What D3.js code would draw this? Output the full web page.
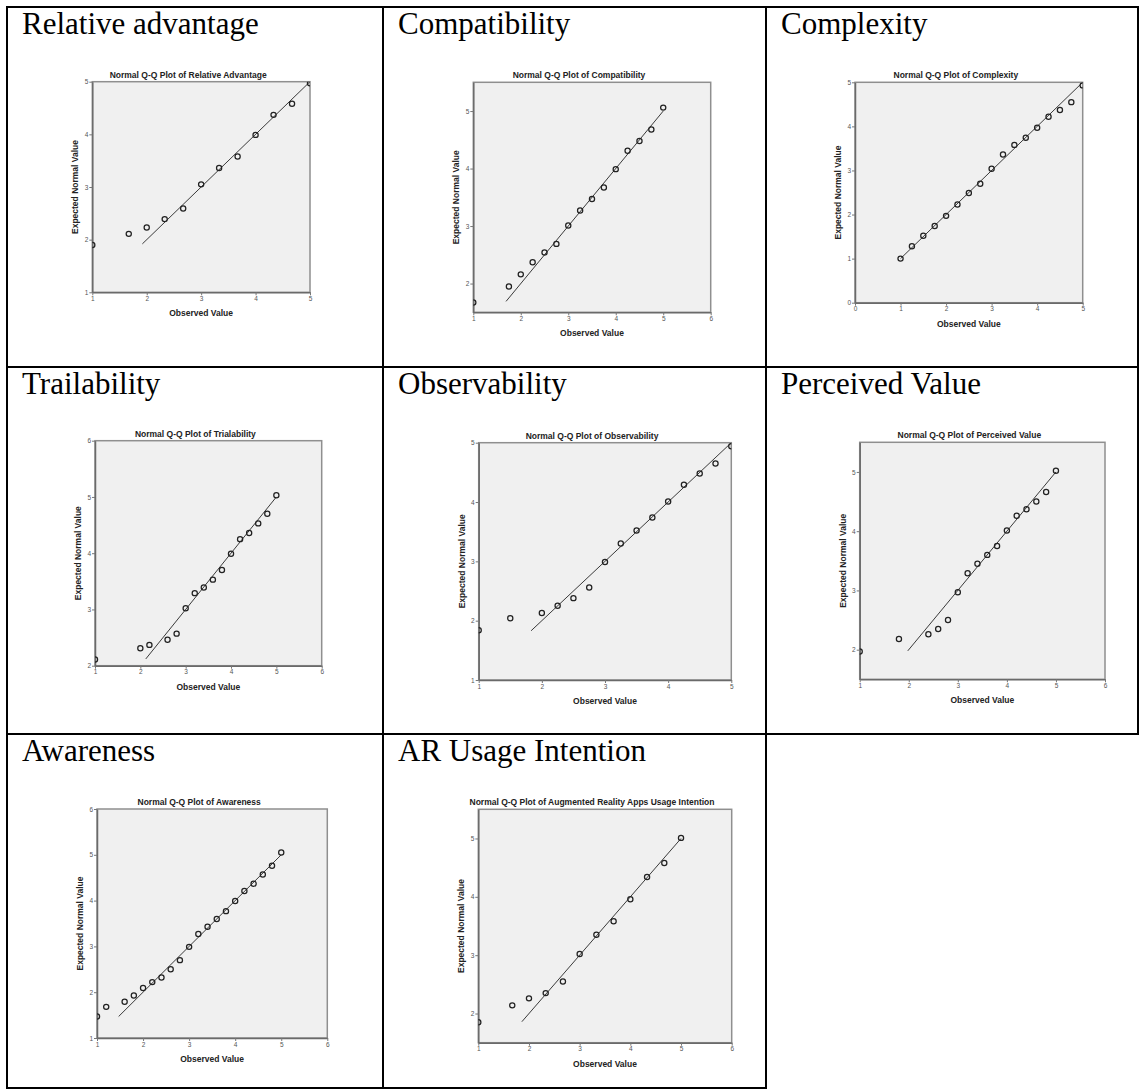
<!DOCTYPE html>
<html><head><meta charset="utf-8">
<script src="https://cdn.jsdelivr.net/npm/d3@7"></script>
<style>body{margin:0;background:#fff} svg{display:block}</style>
</head><body>
<script>
// ---------- DATA ----------
const cellTitles = ["Relative advantage", "Compatibility", "Complexity",
  "Trailability", "Observability", "Perceived Value",
  "Awareness", "AR Usage Intention"];
const plotTitles = ["Normal Q-Q Plot of Relative Advantage", "Normal Q-Q Plot of Compatibility",
  "Normal Q-Q Plot of Complexity", "Normal Q-Q Plot of Trialability",
  "Normal Q-Q Plot of Observability", "Normal Q-Q Plot of Perceived Value",
  "Normal Q-Q Plot of Awareness", "Normal Q-Q Plot of Augmented Reality Apps Usage Intention"];
const xAxisLabel = "Observed Value";
const yAxisLabel = "Expected Normal Value";

const xDomains = [[1,5],[1,6],[0,5],[1,6],[1,5],[1,6],[1,6],[1,6]];
const yDomains = [[1,5],[1.5,5.5],[0,5],[2,6],[1,5],[1.5,5.5],[1,6],[1.5,5.5]];
const xTickValues = [[1,2,3,4,5],[1,2,3,4,5,6],[0,1,2,3,4,5],[1,2,3,4,5,6],
  [1,2,3,4,5],[1,2,3,4,5,6],[1,2,3,4,5,6],[1,2,3,4,5,6]];
const yTickValues = [[1,2,3,4,5],[2,3,4,5],[0,1,2,3,4,5],[2,3,4,5,6],
  [1,2,3,4,5],[2,3,4,5],[1,2,3,4,5,6],[2,3,4,5]];

const observedRelAdv = [1, 1.67, 2, 2.33, 2.67, 3, 3.33, 3.67, 4, 4.33, 4.67, 5];
const expectedRelAdv = [1.90, 2.11, 2.23, 2.39, 2.59, 3.05, 3.36, 3.58, 3.99, 4.37, 4.58, 4.97];
const observedCompat = [1, 1.75, 2, 2.25, 2.5, 2.75, 3, 3.25, 3.5, 3.75, 4, 4.25, 4.5, 4.75, 5];
const expectedCompat = [1.67, 1.95, 2.16, 2.37, 2.54, 2.69, 3.01, 3.27, 3.47, 3.67, 3.99, 4.31, 4.48, 4.68, 5.06];
const observedComplex = [1, 1.25, 1.5, 1.75, 2, 2.25, 2.5, 2.75, 3, 3.25, 3.5, 3.75, 4, 4.25, 4.5, 4.75, 5];
const expectedComplex = [1.00, 1.28, 1.52, 1.74, 1.97, 2.23, 2.49, 2.70, 3.04, 3.36, 3.58, 3.74, 3.97, 4.22, 4.37, 4.55, 4.93];
const observedTrial = [1, 2, 2.2, 2.6, 2.8, 3, 3.2, 3.4, 3.6, 3.8, 4, 4.2, 4.4, 4.6, 4.8, 5];
const expectedTrial = [2.11, 2.31, 2.37, 2.46, 2.57, 3.02, 3.29, 3.39, 3.53, 3.70, 3.99, 4.25, 4.36, 4.53, 4.70, 5.03];
const observedObserv = [1, 1.5, 2, 2.25, 2.5, 2.75, 3, 3.25, 3.5, 3.75, 4, 4.25, 4.5, 4.75, 5];
const expectedObserv = [1.84, 2.04, 2.13, 2.25, 2.38, 2.56, 2.99, 3.30, 3.52, 3.74, 4.01, 4.29, 4.48, 4.65, 4.94];
const observedPerc = [1, 1.8, 2.4, 2.6, 2.8, 3, 3.2, 3.4, 3.6, 3.8, 4, 4.2, 4.4, 4.6, 4.8, 5];
const expectedPerc = [1.97, 2.18, 2.26, 2.35, 2.50, 2.97, 3.29, 3.45, 3.60, 3.75, 4.01, 4.26, 4.37, 4.50, 4.66, 5.02];
const observedAware = [1, 1.2, 1.6, 1.8, 2, 2.2, 2.4, 2.6, 2.8, 3, 3.2, 3.4, 3.6, 3.8, 4, 4.2, 4.4, 4.6, 4.8, 5];
const expectedAware = [1.47, 1.68, 1.79, 1.93, 2.09, 2.22, 2.32, 2.50, 2.70, 2.99, 3.27, 3.43, 3.60, 3.77, 3.99, 4.21, 4.37, 4.57, 4.76, 5.05];
const observedAR = [1, 1.67, 2, 2.33, 2.67, 3, 3.33, 3.67, 4, 4.33, 4.67, 5];
const expectedAR = [1.85, 2.14, 2.26, 2.35, 2.55, 3.02, 3.35, 3.58, 3.96, 4.34, 4.58, 5.01];

const observedSets = [observedRelAdv, observedCompat, observedComplex, observedTrial,
  observedObserv, observedPerc, observedAware, observedAR];
const expectedSets = [expectedRelAdv, expectedCompat, expectedComplex, expectedTrial,
  expectedObserv, expectedPerc, expectedAware, expectedAR];
// reference line y = x, drawn between these values
const lineRanges = [[1.92,5],[1.69,5],[1,5],[2.12,5],[1.83,5],[1.98,5],[1.47,5],[1.86,5]];

// ---------- LAYOUT ----------
const W = 1139, H = 1091;
const colX = [7, 383, 766, 1138];
const rowY = [7, 367, 734, 1088];
const boxes = [
  {l:92.3, r:310, t:81.7, b:292.3},
  {l:473.3, r:710.7, t:82.3, b:312.3},
  {l:855, r:1082.7, t:82.3, b:302.7},
  {l:95, r:321.7, t:440.7, b:665.7},
  {l:478.7, r:731.3, t:442.7, b:680},
  {l:859.7, r:1105, t:442.3, b:679.3},
  {l:97, r:327.3, t:809, b:1038},
  {l:478.3, r:731.7, t:809.3, b:1042.7}
];
const sans = "'Liberation Sans', Arial, sans-serif";

const svg = d3.select("body").append("svg").attr("width", W).attr("height", H);
svg.append("rect").attr("width", W).attr("height", H).attr("fill", "#fff");

// ---------- TABLE ----------
const tbl = svg.append("g").attr("stroke", "#000").attr("stroke-width", 2);
const hLines = [[rowY[0], colX[0], colX[3]], [rowY[1], colX[0], colX[3]],
  [rowY[2], colX[0], colX[3]], [rowY[3], colX[0], colX[2]]];
hLines.forEach(([yy, x1, x2]) => tbl.append("line").attr("x1", x1 - 1).attr("x2", x2 + 1).attr("y1", yy).attr("y2", yy));
const vLines = [[colX[0], rowY[0], rowY[3]], [colX[1], rowY[0], rowY[3]],
  [colX[2], rowY[0], rowY[3]], [colX[3], rowY[0], rowY[2]]];
vLines.forEach(([xx, y1, y2]) => tbl.append("line").attr("x1", xx).attr("x2", xx).attr("y1", y1 - 1).attr("y2", y2 + 1));

cellTitles.forEach((t, i) => {
  const c = i % 3, r = Math.floor(i / 3);
  svg.append("text").attr("x", colX[c] + 15).attr("y", rowY[r] + 27)
    .attr("font-family", "'Liberation Serif', 'Times New Roman', serif")
    .attr("font-size", 31).attr("fill", "#000").text(t);
});

// ---------- PLOTS ----------
boxes.forEach((bx, i) => {
  const g = svg.append("g");
  const x = d3.scaleLinear().domain(xDomains[i]).range([bx.l, bx.r]);
  const y = d3.scaleLinear().domain(yDomains[i]).range([bx.b, bx.t]);
  const cx = (bx.l + bx.r) / 2, cy = (bx.t + bx.b) / 2;

  g.append("rect").attr("x", bx.l).attr("y", bx.t).attr("width", bx.r - bx.l).attr("height", bx.b - bx.t)
    .attr("fill", "#f0f0f0").attr("stroke", "#8f8f8f").attr("stroke-width", 1.5);

  const clipId = "clip" + i;
  svg.append("clipPath").attr("id", clipId).append("rect")
    .attr("x", bx.l).attr("y", bx.t).attr("width", bx.r - bx.l).attr("height", bx.b - bx.t);

  const xa = g.append("g").attr("transform", `translate(0,${bx.b})`)
    .call(d3.axisBottom(x).tickValues(xTickValues[i]).tickSize(3).tickSizeOuter(0).tickPadding(1).tickFormat(d3.format("d")));
  const ya = g.append("g").attr("transform", `translate(${bx.l},0)`)
    .call(d3.axisLeft(y).tickValues(yTickValues[i]).tickSize(3).tickSizeOuter(0).tickPadding(1).tickFormat(d3.format("d")));
  [xa, ya].forEach(a => {
    a.select(".domain").attr("stroke", "#6a6a6a").attr("stroke-width", 1.5);
    a.selectAll(".tick line").attr("stroke", "#777");
    a.selectAll(".tick text").attr("font-family", sans).attr("font-size", 6.5).attr("fill", "#555");
  });

  const plot = g.append("g").attr("clip-path", `url(#${clipId})`);
  const lr = lineRanges[i];
  plot.append("line").attr("x1", x(lr[0])).attr("y1", y(lr[0])).attr("x2", x(lr[1])).attr("y2", y(lr[1]))
    .attr("stroke", "#3a3a3a").attr("stroke-width", 1);
  const pts = observedSets[i].map((o, k) => ({o, e: expectedSets[i][k]}));
  plot.selectAll("circle").data(pts).join("circle")
    .attr("cx", d => x(d.o)).attr("cy", d => y(d.e)).attr("r", 2.6)
    .attr("fill", "none").attr("stroke", "#222").attr("stroke-width", 1.25);

  g.append("text").attr("x", cx - 13).attr("y", bx.t - 4).attr("text-anchor", "middle")
    .attr("font-family", sans).attr("font-weight", "bold").attr("font-size", 8.5).attr("fill", "#222")
    .text(plotTitles[i]);
  g.append("text").attr("x", cx).attr("y", bx.b + 24).attr("text-anchor", "middle")
    .attr("font-family", sans).attr("font-weight", "bold").attr("font-size", 8.5).attr("fill", "#222")
    .text(xAxisLabel);
  g.append("text").attr("transform", `translate(${bx.l - 14},${cy}) rotate(-90)`).attr("text-anchor", "middle")
    .attr("font-family", sans).attr("font-weight", "bold").attr("font-size", 8.5).attr("fill", "#222")
    .text(yAxisLabel);
});
</script>
</body></html>
